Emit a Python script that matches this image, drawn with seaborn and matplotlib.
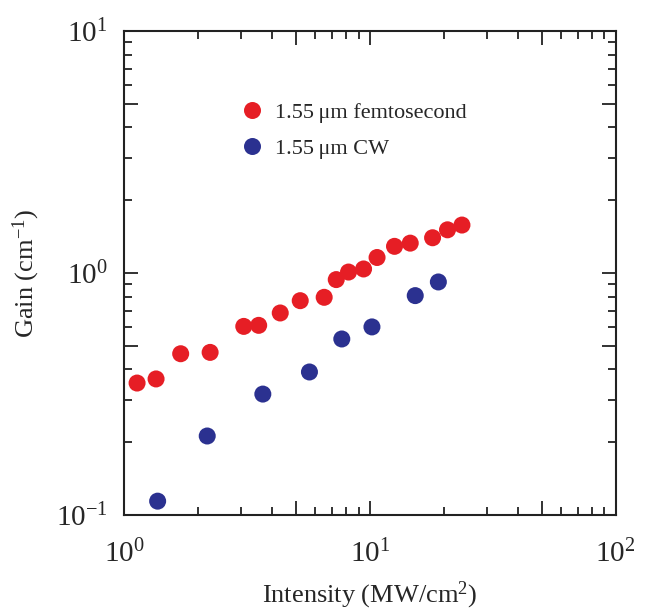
import numpy as np
import pandas as pd
import matplotlib
matplotlib.use("Agg")
import matplotlib.pyplot as plt
import matplotlib.ticker as mticker
import seaborn as sns

# data (log-log axes)
fs_intensity = [1.13, 1.35, 1.70, 2.24, 3.07, 3.53, 4.32, 5.21, 6.52, 7.30,
                8.19, 9.43, 10.7, 12.6, 14.6, 18.0, 20.7, 23.7]
fs_gain = [0.351, 0.365, 0.464, 0.470, 0.602, 0.608, 0.684, 0.769, 0.794, 0.940,
           1.01, 1.04, 1.16, 1.29, 1.33, 1.40, 1.51, 1.58]
cw_intensity = [1.37, 2.18, 3.67, 5.68, 7.69, 10.2, 15.3, 19.0]
cw_gain = [0.114, 0.212, 0.316, 0.390, 0.534, 0.599, 0.807, 0.919]
series_names = ["1.55\u2009\u03bcm femtosecond", "1.55\u2009\u03bcm CW"]
series_colors = ["#e61e25", "#2b3190"]

df = pd.concat([
    pd.DataFrame({"Intensity": fs_intensity, "Gain": fs_gain, "series": series_names[0]}),
    pd.DataFrame({"Intensity": cw_intensity, "Gain": cw_gain, "series": series_names[1]}),
])

sns.set_style("white")
plt.rcParams["font.family"] = ["Liberation Serif", "DejaVu Serif"]
plt.rcParams["mathtext.fontset"] = "custom"
plt.rcParams["mathtext.rm"] = "Liberation Serif"
plt.rcParams["mathtext.it"] = "Liberation Serif:italic"

fig = plt.figure(figsize=(6.46, 6.13), dpi=100)
ax = fig.add_axes([0.192, 0.160, 0.761, 0.789])

sns.scatterplot(data=df, x="Intensity", y="Gain", hue="series",
                palette=dict(zip(series_names, series_colors)),
                s=150, edgecolor="none", ax=ax)

ax.set_xscale("log")
ax.set_yscale("log")
ax.set_xlim(1, 100)
ax.set_ylim(0.1, 10)

# ticks: decades labelled, 5x ticks medium, others short, all inward on every side
for axis in (ax.xaxis, ax.yaxis):
    axis.set_major_locator(mticker.FixedLocator([0.1, 0.5, 1, 5, 10, 50, 100]))
    axis.set_major_formatter(mticker.FuncFormatter(
        lambda v, p: "$10^{%d}$" % round(np.log10(v)) if abs(np.log10(v) - round(np.log10(v))) < 1e-6 else ""))
    axis.set_minor_locator(mticker.LogLocator(base=10, subs=[2, 3, 4, 6, 7, 8, 9]))
    axis.set_minor_formatter(mticker.NullFormatter())
ax.tick_params(which="major", direction="in", length=10, width=1.3,
               bottom=True, left=True, top=True, right=True, color="#222222")
ax.tick_params(axis="x", which="major", labelsize=21, pad=18)
ax.tick_params(axis="y", which="major", labelsize=21, pad=12)
ax.tick_params(which="minor", direction="in", length=6, width=1.3,
               bottom=True, left=True, top=True, right=True, color="#222222")
for spine in ax.spines.values():
    spine.set_linewidth(1.5)
    spine.set_color("#222222")

ax.set_xlabel("Intensity (MW/cm$^{2}$)", fontsize=19, labelpad=8)
ax.set_ylabel("Gain (cm$^{-1}$)", fontsize=19, labelpad=10)

ax.legend(title=None, frameon=False, loc="upper left", bbox_to_anchor=(0.175, 0.895),
          fontsize=16, handletextpad=0.0, labelspacing=0.7, markerscale=1.0)

fig.savefig("out.png", dpi=100)
